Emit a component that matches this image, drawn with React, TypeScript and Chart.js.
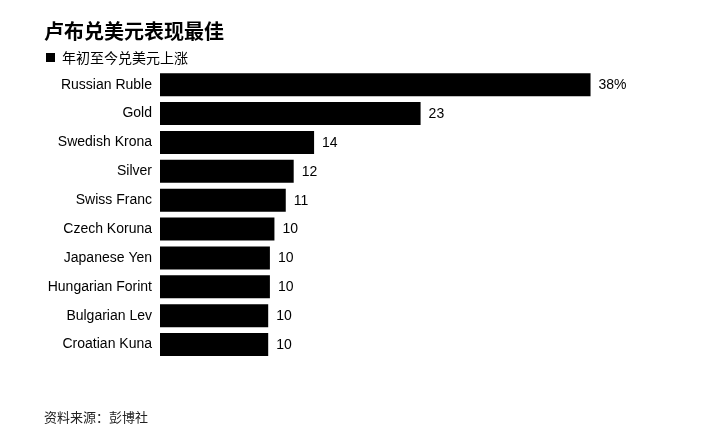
import React, { useEffect, useRef } from "react";
import { Chart, registerables } from "chart.js";

Chart.register(...registerables);

const categories = [
  "Russian Ruble",
  "Gold",
  "Swedish Krona",
  "Silver",
  "Swiss Franc",
  "Czech Koruna",
  "Japanese Yen",
  "Hungarian Forint",
  "Bulgarian Lev",
  "Croatian Kuna",
];
const values = [38, 23, 13.6, 11.8, 11.1, 10.1, 9.7, 9.7, 9.55, 9.55];
const valueLabels = ["38%", "23", "14", "12", "11", "10", "10", "10", "10", "10"];
const titleText = "卢布兑美元表现最佳";
const legendText = "年初至今兑美元上涨";
const sourceText = "资料来源：彭博社";

const LATIN = '"Liberation Sans", Arial, "Noto Sans CJK SC", sans-serif';
const CJK = '"Noto Sans CJK SC", "Liberation Sans", sans-serif';

const overlayPlugin = {
  id: "overlay",
  afterDraw(chart: any) {
    const ctx = chart.ctx as CanvasRenderingContext2D;
    ctx.save();
    // value labels
    const meta = chart.getDatasetMeta(0);
    ctx.font = `14px ${LATIN}`;
    ctx.fillStyle = "#000";
    ctx.textAlign = "left";
    ctx.textBaseline = "middle";
    meta.data.forEach((bar: any, i: number) => {
      ctx.fillText(valueLabels[i], bar.x + 8, bar.y + 0.5);
    });
    // title
    ctx.font = `bold 20px ${CJK}`;
    ctx.fillText(titleText, 44, 31);
    // legend
    ctx.fillRect(46, 53, 9, 9);
    ctx.font = `14px ${CJK}`;
    ctx.fillText(legendText, 62, 57.5);
    // source
    ctx.font = `13px ${CJK}`;
    ctx.fillStyle = "#222";
    ctx.fillText(sourceText, 44, 417);
    ctx.restore();
  },
};

export default function App() {
  const ref = useRef<HTMLCanvasElement | null>(null);
  useEffect(() => {
    if (!ref.current) return;
    const chart = new Chart(ref.current, {
      type: "bar",
      data: {
        labels: categories,
        datasets: [
          {
            data: values,
            backgroundColor: "#000",
            borderWidth: 0,
            barPercentage: 0.797,
            categoryPercentage: 1,
          },
        ],
      },
      options: {
        indexAxis: "y",
        responsive: false,
        animation: false,
        layout: { padding: { top: 70.3, bottom: 79, left: 0, right: 114.8 } },
        plugins: {
          legend: { display: false },
          title: { display: false },
          tooltip: { enabled: false },
        },
        scales: {
          x: { display: false, min: 0, max: 40 },
          y: {
            afterFit: (scale: any) => {
              scale.width = 160;
            },
            grid: { display: false, drawTicks: false },
            border: { display: false },
            ticks: {
              padding: 8,
              color: "#000",
              font: { family: LATIN, size: 14 },
              autoSkip: false,
            },
          },
        },
      },
      plugins: [overlayPlugin],
    });
    return () => chart.destroy();
  }, []);
  return (
    <div style={{ position: "absolute", left: 0, top: 0, width: 728, height: 438, background: "#fff" }}>
      <canvas ref={ref} width={728} height={438} style={{ display: "block", width: 728, height: 438 }} />
    </div>
  );
}
